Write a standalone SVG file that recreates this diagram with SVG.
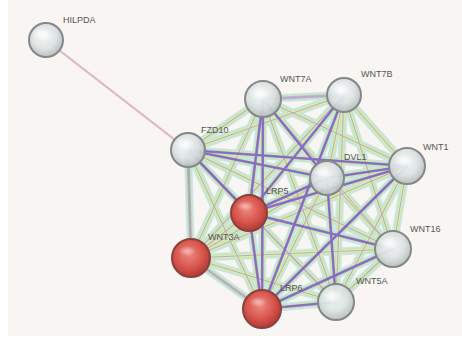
<svg xmlns="http://www.w3.org/2000/svg" xmlns:xlink="http://www.w3.org/1999/xlink" width="462" height="338" viewBox="0 0 462 338">
<style>
.lbl{font-family:"Liberation Sans",Arial,sans-serif;font-size:9px;fill:#555555}
.gn{fill:url(#gGray);fill-opacity:0.92;stroke:#858888;stroke-width:2}
.rn{fill:url(#gRed);stroke:#87423e;stroke-width:2}
.hl{fill:url(#gHi)}
</style>
<defs>
<radialGradient id="gGray" cx="0.45" cy="0.4" r="0.6">
<stop offset="0" stop-color="#f4f7f7"/>
<stop offset="0.6" stop-color="#dbe2e2"/>
<stop offset="1" stop-color="#b6bcbc"/>
</radialGradient>
<radialGradient id="gRed" cx="0.45" cy="0.4" r="0.6">
<stop offset="0" stop-color="#ec8a80"/>
<stop offset="0.6" stop-color="#d9554d"/>
<stop offset="1" stop-color="#b23a34"/>
</radialGradient>
<radialGradient id="gHi" cx="0.5" cy="0.5" r="0.5">
<stop offset="0" stop-color="#ffffff" stop-opacity="0.8"/>
<stop offset="1" stop-color="#ffffff" stop-opacity="0"/>
</radialGradient>
<g id="E">
<path d="M188 150L263 99"/><path d="M188 150L344 95"/><path d="M188 150L407 166"/><path d="M188 150L327 178"/><path d="M188 150L249 213"/><path d="M188 150L191 258"/><path d="M188 150L262 309"/><path d="M188 150L336 302"/><path d="M188 150L393 249"/>
<path d="M263 99L344 95"/><path d="M263 99L407 166"/><path d="M263 99L327 178"/><path d="M263 99L249 213"/><path d="M263 99L191 258"/><path d="M263 99L262 309"/><path d="M263 99L336 302"/><path d="M263 99L393 249"/>
<path d="M344 95L407 166"/><path d="M344 95L327 178"/><path d="M344 95L249 213"/><path d="M344 95L191 258"/><path d="M344 95L262 309"/><path d="M344 95L336 302"/><path d="M344 95L393 249"/>
<path d="M407 166L327 178"/><path d="M407 166L249 213"/><path d="M407 166L191 258"/><path d="M407 166L262 309"/><path d="M407 166L336 302"/><path d="M407 166L393 249"/>
<path d="M327 178L249 213"/><path d="M327 178L191 258"/><path d="M327 178L262 309"/><path d="M327 178L336 302"/><path d="M327 178L393 249"/>
<path d="M249 213L191 258"/><path d="M249 213L262 309"/><path d="M249 213L336 302"/><path d="M249 213L393 249"/>
<path d="M191 258L262 309"/><path d="M191 258L336 302"/><path d="M191 258L393 249"/>
<path d="M262 309L336 302"/><path d="M262 309L393 249"/>
<path d="M336 302L393 249"/>
</g>
<g id="S">
<path d="M188 150L249 213"/><path d="M188 150L327 178"/><path d="M188 150L407 166"/><path d="M263 99L249 213"/><path d="M263 99L262 309"/><path d="M344 95L249 213"/><path d="M344 95L262 309"/><path d="M407 166L249 213"/><path d="M327 178L249 213"/><path d="M249 213L262 309"/><path d="M262 309L393 249"/><path d="M262 309L336 302"/><path d="M249 213L393 249"/><path d="M407 166L327 178"/><path d="M327 178L336 302"/><path d="M263 99L327 178"/><path d="M407 166L262 309"/>
</g>
</defs>
<rect width="462" height="338" fill="#ffffff"/>
<rect x="8" y="0" width="454" height="336" fill="#f8f5f2"/>
<g id="connectors" fill="none" stroke-linecap="round">
<path d="M46 40L188 150" stroke="#e2b6be" stroke-width="2.2"/>
<use href="#E" stroke="#a9dde8" stroke-width="8" opacity="0.6"/>
<use href="#E" stroke="#c6ea9e" stroke-width="5.4" opacity="0.65"/>
<use href="#E" stroke="#eef09a" stroke-width="3" opacity="0.7"/>
<use href="#E" stroke="#a898e2" stroke-width="1.1" opacity="0.75"/>
<use href="#S" stroke="#7550cc" stroke-width="2.6" opacity="0.75"/>
<path d="M263 99L344 95" stroke="#b8a2dc" stroke-width="3" opacity="0.8"/>
<path d="M188 150L191 258" stroke="#a9a0c0" stroke-width="3" opacity="0.8"/>
<path d="M191 258L262 309" stroke="#b2a6d0" stroke-width="3" opacity="0.7"/>
</g>
<g id="HILPDA"><circle class="gn" cx="46" cy="40" r="17"/><ellipse class="hl" cx="42" cy="34" rx="10" ry="7"/><text class="lbl" x="63" y="23">HILPDA</text></g>
<g id="FZD10"><circle class="gn" cx="188" cy="150" r="17"/><ellipse class="hl" cx="184" cy="144" rx="10" ry="7"/><text class="lbl" x="201" y="133">FZD10</text></g>
<g id="WNT7A"><circle class="gn" cx="263" cy="99" r="18"/><ellipse class="hl" cx="259" cy="93" rx="10" ry="7"/><text class="lbl" x="280" y="82">WNT7A</text></g>
<g id="WNT7B"><circle class="gn" cx="344" cy="95" r="17"/><ellipse class="hl" cx="340" cy="89" rx="10" ry="7"/><text class="lbl" x="361" y="77">WNT7B</text></g>
<g id="WNT1"><circle class="gn" cx="407" cy="166" r="18"/><ellipse class="hl" cx="403" cy="160" rx="10" ry="7"/><text class="lbl" x="423" y="150">WNT1</text></g>
<g id="DVL1"><circle class="gn" cx="327" cy="178" r="17"/><ellipse class="hl" cx="323" cy="172" rx="10" ry="7"/><text class="lbl" x="344" y="160">DVL1</text></g>
<g id="WNT16"><circle class="gn" cx="393" cy="249" r="18"/><ellipse class="hl" cx="389" cy="243" rx="10" ry="7"/><text class="lbl" x="410" y="232">WNT16</text></g>
<g id="WNT5A"><circle class="gn" cx="336" cy="302" r="18"/><ellipse class="hl" cx="332" cy="296" rx="10" ry="7"/><text class="lbl" x="356" y="284">WNT5A</text></g>
<g id="LRP5"><circle class="rn" cx="249" cy="213" r="18"/><ellipse class="hl" cx="245" cy="206" rx="9" ry="5" opacity="0.6"/><text class="lbl" x="266" y="194">LRP5</text></g>
<g id="WNT3A"><circle class="rn" cx="191" cy="258" r="19"/><ellipse class="hl" cx="187" cy="251" rx="9" ry="5" opacity="0.6"/><text class="lbl" x="208" y="240">WNT3A</text></g>
<g id="LRP6"><circle class="rn" cx="262" cy="309" r="19"/><ellipse class="hl" cx="258" cy="302" rx="9" ry="5" opacity="0.6"/><text class="lbl" x="280" y="291">LRP6</text></g>
</svg>
